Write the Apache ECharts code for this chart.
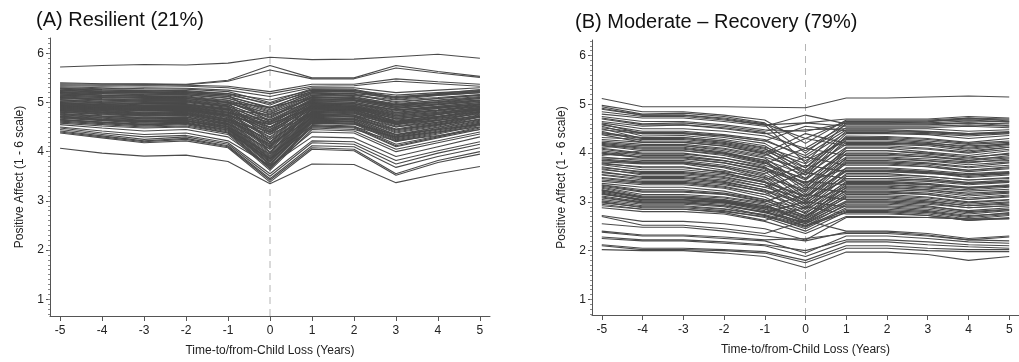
<!DOCTYPE html>
<html>
<head>
<meta charset="utf-8">
<script src="https://cdn.jsdelivr.net/npm/echarts@6/dist/echarts.min.js"></script>
<style>
html,body{margin:0;padding:0;background:#fff;}
#chart{width:1019px;height:362px;}
</style>
</head>
<body>
<div id="chart"></div>
<script>
// ---- data ----
const years = [-5, -4, -3, -2, -1, 0, 1, 2, 3, 4, 5];
const xTickLabels = ['-5', '-4', '-3', '-2', '-1', '0', '1', '2', '3', '4', '5'];
const yTickLabels = ['1', '2', '3', '4', '5', '6'];
const titleA = '(A) Resilient (21%)';
const titleB = '(B) Moderate \u2013 Recovery (79%)';
const lossYear = 0;

// (A) Resilient trajectories, one row per person, values at years -5..5
const resilientLines = [
  [5.72,5.75,5.77,5.76,5.80,5.92,5.87,5.88,5.93,5.98,5.90],
  [5.40,5.38,5.38,5.37,5.45,5.75,5.50,5.50,5.75,5.63,5.53],
  [5.38,5.37,5.37,5.36,5.43,5.66,5.48,5.48,5.70,5.60,5.51],
  [5.36,5.35,5.36,5.35,5.33,5.22,5.37,5.37,5.48,5.42,5.37],
  [5.34,5.33,5.34,5.33,5.30,5.18,5.33,5.34,5.43,5.38,5.33],
  [5.30,5.28,5.30,5.29,5.25,5.12,5.30,5.30,5.20,5.25,5.30],
  [5.28,5.25,5.24,5.22,5.18,5.05,5.25,5.24,5.15,5.20,5.24],
  [5.25,5.22,5.21,5.20,5.15,4.98,5.22,5.21,5.12,5.17,5.22],
  [5.22,5.20,5.20,5.18,5.12,4.90,5.20,5.18,5.10,5.15,5.20],
  [5.20,5.18,5.16,5.15,5.08,4.85,5.17,5.15,5.05,5.10,5.16],
  [5.18,5.15,5.14,5.13,5.05,4.80,5.15,5.14,5.02,5.08,5.14],
  [5.15,5.12,5.10,5.10,5.02,4.72,5.12,5.10,4.98,5.04,5.10],
  [5.12,5.10,5.08,5.08,5.00,4.68,5.10,5.08,4.95,5.00,5.08],
  [5.10,5.07,5.05,5.05,4.96,4.62,5.07,5.05,4.92,4.98,5.05],
  [5.08,5.05,5.02,5.03,4.93,4.55,5.04,5.03,4.88,4.95,5.02],
  [5.05,5.02,5.00,5.00,4.90,4.50,5.02,5.00,4.85,4.92,5.00],
  [5.03,5.00,4.98,4.98,4.88,4.45,5.00,4.98,4.80,4.88,4.97],
  [5.00,4.98,4.95,4.95,4.85,4.40,4.97,4.95,4.78,4.85,4.95],
  [4.98,4.95,4.93,4.93,4.82,4.35,4.95,4.92,4.74,4.82,4.92],
  [4.96,4.92,4.90,4.90,4.78,4.30,4.92,4.90,4.70,4.78,4.90],
  [4.94,4.90,4.88,4.88,4.76,4.25,4.90,4.88,4.66,4.75,4.87],
  [4.92,4.88,4.85,4.86,4.73,4.20,4.87,4.85,4.62,4.72,4.85],
  [4.90,4.86,4.83,4.84,4.70,4.15,4.85,4.82,4.58,4.70,4.82],
  [4.88,4.84,4.80,4.82,4.67,4.10,4.82,4.80,4.55,4.66,4.80],
  [4.86,4.82,4.78,4.80,4.64,4.05,4.80,4.78,4.50,4.63,4.78],
  [4.84,4.80,4.76,4.78,4.62,4.00,4.78,4.75,4.46,4.60,4.75],
  [4.82,4.78,4.74,4.76,4.60,3.95,4.75,4.72,4.42,4.56,4.72],
  [4.80,4.75,4.72,4.73,4.57,3.90,4.72,4.70,4.38,4.52,4.70],
  [4.78,4.73,4.70,4.71,4.55,3.88,4.70,4.68,4.35,4.50,4.67],
  [4.75,4.70,4.67,4.68,4.52,3.85,4.67,4.65,4.32,4.47,4.64],
  [4.72,4.68,4.64,4.66,4.50,3.80,4.64,4.62,4.28,4.44,4.60],
  [4.70,4.65,4.61,4.63,4.47,3.75,4.62,4.60,4.24,4.40,4.57],
  [4.68,4.63,4.58,4.60,4.44,3.72,4.58,4.56,4.20,4.36,4.53],
  [4.65,4.60,4.55,4.58,4.42,3.68,4.55,4.52,4.15,4.32,4.50],
  [4.62,4.57,4.52,4.55,4.38,3.65,4.50,4.48,4.10,4.28,4.45],
  [4.58,4.52,4.48,4.50,4.35,3.62,4.45,4.42,4.05,4.22,4.40],
  [4.55,4.48,4.42,4.45,4.30,3.70,4.40,4.38,4.00,4.18,4.36],
  [4.50,4.42,4.35,4.38,4.22,3.72,4.30,4.28,3.90,4.10,4.30],
  [4.48,4.38,4.30,4.33,4.18,3.55,4.22,4.20,3.82,4.02,4.20],
  [4.45,4.35,4.25,4.30,4.15,3.50,4.18,4.15,3.75,3.97,4.15],
  [4.42,4.32,4.22,4.27,4.12,3.45,4.12,4.10,3.68,3.90,4.08],
  [4.40,4.30,4.20,4.25,4.10,3.42,4.08,4.05,3.55,3.82,4.00],
  [4.38,4.28,4.18,4.22,4.08,3.38,4.05,4.02,3.52,3.78,3.95],
  [4.07,3.97,3.91,3.93,3.80,3.35,3.75,3.74,3.37,3.55,3.70],
  [5.27,5.23,5.22,5.21,5.15,4.60,5.05,5.05,4.95,5.00,5.05],
  [5.20,5.15,5.12,5.12,5.00,4.20,4.95,4.92,4.60,4.75,4.88],
  [5.10,5.05,5.03,5.02,4.92,3.98,4.88,4.86,4.55,4.70,4.82],
  [5.00,4.96,4.92,4.92,4.80,4.60,4.98,4.97,4.85,4.90,4.96],
  [4.95,4.90,4.88,4.87,4.75,4.45,4.85,4.83,4.64,4.72,4.80],
  [4.90,4.87,4.84,4.83,4.72,4.55,4.90,4.88,4.70,4.78,4.86],
  [4.85,4.80,4.78,4.78,4.66,4.35,4.76,4.74,4.56,4.64,4.72],
  [4.80,4.77,4.74,4.75,4.62,4.25,4.74,4.72,4.50,4.60,4.70],
  [4.76,4.72,4.68,4.70,4.56,4.15,4.68,4.66,4.45,4.55,4.65],
  [4.72,4.66,4.62,4.63,4.50,4.05,4.58,4.56,4.35,4.45,4.55],
  [4.66,4.60,4.56,4.58,4.44,3.95,4.52,4.50,4.30,4.40,4.50],
  [4.60,4.55,4.50,4.52,4.38,3.85,4.48,4.45,4.22,4.33,4.45],
  [5.15,5.12,5.10,5.08,5.00,4.90,5.10,5.08,4.95,5.02,5.10],
  [5.05,5.00,4.98,4.97,4.86,4.75,5.00,4.98,4.82,4.90,4.98],
  [4.98,4.93,4.90,4.90,4.80,4.65,4.93,4.92,4.76,4.84,4.93],
  [4.93,4.88,4.86,4.85,4.74,4.50,4.88,4.86,4.68,4.76,4.85],
  [5.32,5.30,5.28,5.27,5.22,5.00,5.28,5.27,5.10,5.18,5.26],
  [5.29,5.26,5.25,5.24,5.18,4.95,5.26,5.25,5.08,5.16,5.23],
  [5.24,5.21,5.19,5.18,5.12,4.88,5.23,5.22,5.06,5.14,5.20],
  [5.21,5.18,5.17,5.16,5.09,4.82,5.19,5.17,5.00,5.08,5.15],
  [5.17,5.14,5.12,5.11,5.04,4.76,5.14,5.12,4.96,5.05,5.12],
  [5.13,5.10,5.09,5.08,5.00,4.70,5.11,5.09,4.92,5.01,5.08],
  [5.09,5.06,5.04,5.04,4.95,4.65,5.06,5.04,4.88,4.96,5.03],
  [5.06,5.03,5.01,5.01,4.92,4.58,5.03,5.01,4.84,4.92,5.00],
  [5.02,4.99,4.97,4.96,4.87,4.48,4.99,4.97,4.79,4.88,4.96],
  [4.99,4.96,4.94,4.94,4.84,4.42,4.96,4.94,4.76,4.84,4.93],
  [4.97,4.94,4.91,4.91,4.80,4.38,4.93,4.91,4.72,4.80,4.90],
  [4.93,4.89,4.87,4.87,4.75,4.28,4.89,4.87,4.67,4.76,4.86],
  [4.91,4.87,4.84,4.85,4.72,4.18,4.86,4.84,4.60,4.71,4.84],
  [4.89,4.85,4.82,4.83,4.69,4.12,4.83,4.81,4.57,4.68,4.81],
  [4.87,4.83,4.79,4.81,4.66,4.08,4.81,4.79,4.52,4.64,4.79],
  [4.83,4.79,4.75,4.77,4.61,3.98,4.77,4.74,4.44,4.58,4.74],
  [4.81,4.76,4.73,4.74,4.58,3.92,4.73,4.71,4.40,4.54,4.71],
  [4.77,4.72,4.69,4.70,4.54,3.86,4.69,4.67,4.34,4.49,4.66],
  [4.74,4.69,4.66,4.67,4.51,3.82,4.66,4.64,4.30,4.46,4.62],
  [4.71,4.66,4.63,4.64,4.48,3.78,4.63,4.61,4.26,4.42,4.58],
  [4.69,4.64,4.60,4.62,4.46,3.74,4.60,4.58,4.22,4.38,4.55],
  [4.64,4.59,4.54,4.57,4.40,3.66,4.53,4.50,4.12,4.30,4.48],
  [5.11,5.08,5.06,5.06,4.98,4.78,5.08,5.06,4.90,4.97,5.04],
  [4.95,4.91,4.89,4.89,4.78,4.56,4.91,4.90,4.73,4.80,4.88],
  [4.85,4.81,4.77,4.79,4.65,4.40,4.79,4.77,4.60,4.68,4.76]
];

// (B) Moderate - Recovery trajectories, values at years -5..5
const recoveryLines = [
  [5.12,4.95,4.95,4.95,4.94,4.93,5.13,5.13,5.15,5.17,5.15],
  [4.98,4.85,4.85,4.78,4.68,4.20,4.68,4.68,4.68,4.72,4.70],
  [4.95,4.80,4.82,4.75,4.62,4.00,4.65,4.65,4.66,4.70,4.68],
  [4.92,4.78,4.78,4.70,4.58,3.80,4.62,4.62,4.64,4.72,4.66],
  [4.80,4.72,4.72,4.65,4.55,4.78,4.60,4.60,4.60,4.62,4.60],
  [4.72,4.60,4.62,4.55,4.45,4.62,4.55,4.55,4.55,4.58,4.55],
  [4.65,4.55,4.58,4.50,4.40,4.48,4.50,4.50,4.50,4.45,4.48],
  [4.60,4.40,4.40,4.32,4.20,3.70,4.45,4.45,4.42,4.38,4.42],
  [4.55,4.35,4.36,4.28,4.15,3.62,4.40,4.40,4.38,4.30,4.36],
  [4.50,4.30,4.32,4.25,4.10,3.55,4.35,4.34,4.30,4.22,4.30],
  [4.45,4.25,4.25,4.18,4.02,3.48,4.28,4.28,4.22,4.12,4.20],
  [4.38,4.22,4.22,4.15,4.00,4.40,4.20,4.20,4.18,4.10,4.18],
  [4.25,4.18,4.18,4.10,3.95,4.30,4.15,4.15,4.10,4.02,4.12],
  [4.22,4.15,4.15,4.05,3.90,3.35,4.10,4.10,4.02,3.95,4.05],
  [4.20,4.12,4.12,4.02,3.85,3.28,4.05,4.05,3.98,3.90,4.00],
  [4.18,4.10,4.10,4.00,3.82,3.22,4.00,4.00,3.95,3.85,3.95],
  [4.15,4.05,4.05,3.95,3.78,4.10,3.95,3.95,3.92,3.88,3.92],
  [4.10,4.00,4.00,3.90,3.72,3.15,3.90,3.90,3.85,3.80,3.88],
  [4.05,3.95,3.95,3.85,3.68,3.10,3.85,3.85,3.80,3.72,3.80],
  [4.00,3.90,3.90,3.80,3.62,3.05,3.80,3.80,3.75,3.65,3.72],
  [3.92,3.85,3.85,3.75,3.58,3.92,3.75,3.75,3.72,3.65,3.70],
  [3.88,3.82,3.82,3.72,3.52,3.00,3.70,3.70,3.65,3.58,3.62],
  [3.85,3.80,3.80,3.70,3.48,2.95,3.65,3.65,3.60,3.52,3.58],
  [3.82,3.78,3.78,3.65,3.45,3.75,3.62,3.62,3.58,3.55,3.58],
  [3.78,3.72,3.72,3.60,3.40,2.90,3.58,3.58,3.52,3.45,3.50],
  [3.72,3.60,3.60,3.52,3.35,2.85,3.52,3.52,3.48,3.40,3.45],
  [3.68,3.55,3.55,3.48,3.30,3.60,3.48,3.48,3.45,3.38,3.42],
  [3.62,3.50,3.50,3.42,3.25,2.80,3.42,3.42,3.38,3.30,3.35],
  [3.55,3.45,3.45,3.38,3.20,2.75,3.38,3.38,3.35,3.28,3.32],
  [3.48,3.40,3.40,3.32,3.15,3.42,3.35,3.35,3.30,3.25,3.30],
  [3.42,3.35,3.35,3.28,3.10,2.70,3.30,3.30,3.25,3.18,3.22],
  [3.38,3.30,3.30,3.22,3.05,2.65,3.25,3.25,3.22,3.12,3.18],
  [3.32,3.20,3.20,3.15,3.00,3.30,3.20,3.20,3.15,3.05,3.10],
  [3.28,3.12,3.12,3.08,2.95,2.60,3.15,3.15,3.10,3.00,3.05],
  [3.25,3.10,3.10,3.05,2.92,2.58,3.10,3.10,3.05,2.95,3.00],
  [3.22,3.08,3.08,3.02,2.88,3.15,3.05,3.05,3.00,2.92,2.98],
  [3.20,3.05,3.05,3.00,2.85,2.55,3.00,3.00,2.95,2.88,2.92],
  [3.18,3.02,3.02,2.98,2.82,2.50,2.95,2.95,2.90,2.82,2.88],
  [3.12,3.00,3.00,2.95,2.78,3.00,2.90,2.90,2.85,2.75,2.82],
  [3.05,2.95,2.95,2.90,2.72,2.45,2.85,2.85,2.80,2.70,2.78],
  [3.00,2.88,2.88,2.82,2.68,2.40,2.80,2.80,2.75,2.65,2.72],
  [2.95,2.85,2.85,2.78,2.62,2.90,2.75,2.75,2.72,2.62,2.68],
  [2.88,2.80,2.80,2.75,2.60,2.35,2.70,2.70,2.68,2.65,2.65],
  [2.72,2.60,2.60,2.55,2.45,2.22,2.68,2.68,2.68,2.65,2.66],
  [2.70,2.52,2.52,2.45,2.35,2.62,2.40,2.40,2.35,2.25,2.30],
  [2.55,2.48,2.48,2.40,2.30,2.20,2.38,2.38,2.32,2.22,2.28],
  [2.40,2.32,2.32,2.28,2.22,2.25,2.35,2.35,2.30,2.22,2.20],
  [2.38,2.30,2.30,2.25,2.20,1.95,2.30,2.30,2.25,2.18,2.15],
  [2.28,2.22,2.22,2.18,2.12,2.00,2.22,2.22,2.18,2.12,2.10],
  [2.25,2.20,2.20,2.15,2.10,1.88,2.18,2.18,2.12,2.08,2.05],
  [2.12,2.05,2.05,2.02,1.98,1.80,2.10,2.10,2.05,2.02,2.02],
  [2.10,2.02,2.02,2.00,1.95,1.75,2.05,2.05,2.00,1.98,1.98],
  [2.02,2.00,2.00,1.95,1.88,1.65,1.97,1.97,1.92,1.80,1.88],
  [4.85,4.75,4.75,4.68,4.58,4.62,4.70,4.70,4.70,4.75,4.72],
  [4.62,4.50,4.50,4.45,4.35,4.10,4.58,4.58,4.58,4.62,4.56],
  [4.48,4.40,4.40,4.35,4.25,3.95,4.48,4.48,4.45,4.40,4.44],
  [4.32,4.28,4.28,4.20,4.05,3.70,4.32,4.32,4.28,4.20,4.25],
  [4.12,4.15,4.15,4.08,3.92,3.65,4.18,4.18,4.15,4.05,4.12],
  [3.95,4.05,4.05,3.98,3.80,3.45,4.05,4.05,4.00,3.92,3.98],
  [3.90,3.88,3.88,3.80,3.65,3.38,3.92,3.92,3.88,3.82,3.85],
  [3.80,3.70,3.70,3.62,3.50,3.25,3.78,3.78,3.72,3.62,3.68],
  [3.70,3.62,3.62,3.55,3.40,3.10,3.62,3.62,3.60,3.50,3.55],
  [3.60,3.52,3.52,3.45,3.30,3.05,3.45,3.45,3.42,3.35,3.40],
  [3.50,3.42,3.42,3.35,3.22,2.95,3.32,3.32,3.28,3.22,3.26],
  [3.35,3.25,3.25,3.18,3.05,2.85,3.28,3.28,3.25,3.15,3.20],
  [3.30,3.15,3.15,3.10,2.98,2.72,3.18,3.18,3.15,3.05,3.12],
  [3.15,3.05,3.05,3.00,2.88,2.65,3.08,3.08,3.02,2.92,2.95],
  [3.08,2.98,2.98,2.92,2.80,2.58,2.98,2.98,2.92,2.80,2.85],
  [2.92,2.85,2.85,2.80,2.70,2.48,2.88,2.88,2.82,2.72,2.76],
  [4.02,3.92,3.92,3.85,3.70,3.40,3.68,3.68,3.62,3.55,3.60],
  [4.42,4.32,4.32,4.25,4.12,3.85,4.25,4.25,4.20,4.15,4.18],
  [3.25,3.08,3.08,3.02,2.90,2.68,3.35,3.35,3.32,3.30,3.32],
  [2.98,2.90,2.90,2.85,2.72,2.50,2.78,2.78,2.72,2.62,2.66],
  [4.90,4.78,4.78,4.72,4.60,4.30,4.66,4.66,4.66,4.68,4.64],
  [4.70,4.58,4.58,4.52,4.42,4.05,4.52,4.52,4.52,4.55,4.52],
  [4.58,4.45,4.45,4.38,4.28,3.90,4.42,4.42,4.40,4.35,4.40],
  [4.40,4.30,4.30,4.22,4.08,3.78,4.30,4.30,4.25,4.18,4.22],
  [4.28,4.22,4.22,4.14,3.98,3.60,4.22,4.22,4.18,4.08,4.15],
  [4.16,4.08,4.08,4.00,3.86,3.55,4.12,4.12,4.08,4.00,4.08],
  [4.08,3.98,3.98,3.90,3.75,3.48,3.98,3.98,3.92,3.85,3.90],
  [3.98,3.92,3.92,3.84,3.70,3.32,3.88,3.88,3.84,3.76,3.82],
  [3.86,3.80,3.80,3.72,3.55,3.20,3.82,3.82,3.78,3.70,3.75],
  [3.76,3.66,3.66,3.58,3.42,3.12,3.65,3.65,3.62,3.55,3.60],
  [3.66,3.58,3.58,3.50,3.35,3.02,3.55,3.55,3.52,3.45,3.48],
  [3.56,3.48,3.48,3.40,3.25,2.98,3.48,3.48,3.45,3.38,3.42],
  [3.45,3.38,3.38,3.30,3.15,2.88,3.40,3.40,3.36,3.28,3.34],
  [3.34,3.22,3.22,3.16,3.02,2.78,3.22,3.22,3.18,3.08,3.14],
  [3.24,3.10,3.10,3.04,2.92,2.70,3.12,3.12,3.08,2.98,3.04],
  [3.16,3.04,3.04,2.98,2.86,2.62,3.02,3.02,2.98,2.88,2.92],
  [3.10,2.98,2.98,2.92,2.78,2.55,2.92,2.92,2.88,2.78,2.84],
  [3.02,2.92,2.92,2.86,2.74,2.52,2.82,2.82,2.78,2.68,2.74],
  [4.75,4.65,4.65,4.58,4.48,4.45,4.62,4.62,4.62,4.66,4.64],
  [4.52,4.42,4.42,4.36,4.25,4.55,4.46,4.46,4.44,4.40,4.42]
];

// ---- chart ----
const FONT = 'Liberation Sans, Arial, sans-serif';
const LINE_COLOR = '#4a4a4a';
const AXIS_COLOR = '#555';
const xMajor = years.slice();
const yMajor = yTickLabels.map(Number);
const yMinor = [];
for (let k = 7; k <= 63; k++) yMinor.push(k / 10);

const Y_A = [0.66, 6.31];
const Y_B = [0.68, 6.32];

function xAxisFor(gridIndex) {
  return {
    type: 'value', gridIndex: gridIndex, min: -5.24, max: 5.24,
    name: 'Time-to/from-Child Loss (Years)', nameLocation: 'middle', nameGap: 29,
    nameTextStyle: { fontFamily: FONT, fontSize: 12, color: '#222' },
    axisLine: { show: true, onZero: false, lineStyle: { color: AXIS_COLOR, width: 1 } },
    axisTick: { show: true, length: 5, customValues: xMajor, lineStyle: { color: AXIS_COLOR } },
    axisLabel: { customValues: xMajor, margin: 9, fontFamily: FONT, fontSize: 12, color: '#222',
      formatter: v => xTickLabels[years.indexOf(Math.round(v))] },
    splitLine: { show: false }
  };
}
function yAxisFor(gridIndex, rng) {
  return {
    type: 'value', gridIndex: gridIndex, min: rng[0], max: rng[1], position: 'left',
    name: 'Positive Affect (1 - 6 scale)', nameLocation: 'middle', nameGap: 24,
    nameTextStyle: { fontFamily: FONT, fontSize: 12, color: '#222' },
    axisLine: { show: true, onZero: false, lineStyle: { color: AXIS_COLOR, width: 1 } },
    axisTick: { show: true, length: 4, customValues: yMajor, lineStyle: { color: AXIS_COLOR } },
    axisLabel: { customValues: yMajor, margin: 6, fontFamily: FONT, fontSize: 12, color: '#222',
      formatter: v => yTickLabels[yMajor.indexOf(Math.round(v))] },
    splitLine: { show: false }
  };
}
function yMinorAxisFor(gridIndex, rng) {
  return {
    type: 'value', gridIndex: gridIndex, min: rng[0], max: rng[1], position: 'left', offset: 0,
    axisLine: { show: false, onZero: false },
    axisTick: { show: true, length: 2, customValues: yMinor, lineStyle: { color: '#888' } },
    axisLabel: { show: false }, splitLine: { show: false }
  };
}

const series = [];
function addPanel(lines, xi, yi, rng) {
  // dashed reference line at the year of loss
  series.push({
    type: 'line', xAxisIndex: xi, yAxisIndex: yi, silent: true, symbol: 'none',
    animation: false, z: 1,
    lineStyle: { color: '#b4b4b4', width: 1, type: [7, 5] },
    data: [[lossYear, rng[0]], [lossYear, rng[1]]]
  });
  lines.forEach(vals => {
    series.push({
      type: 'line', xAxisIndex: xi, yAxisIndex: yi, silent: true,
      symbol: 'none', animation: false, z: 2,
      lineStyle: { color: LINE_COLOR, width: 1.1 },
      data: years.map((x, i) => [x, vals[i]])
    });
  });
}
addPanel(resilientLines, 0, 0, Y_A);
addPanel(recoveryLines, 1, 2, Y_B);

const chart = echarts.init(document.getElementById('chart'), null, { renderer: 'canvas' });
chart.setOption({
  animation: false,
  backgroundColor: '#fff',
  title: [
    { text: titleA, left: 31, top: 5, textStyle: { fontFamily: FONT, fontSize: 20, fontWeight: 'normal', color: '#111' } },
    { text: titleB, left: 570, top: 7, textStyle: { fontFamily: FONT, fontSize: 20, fontWeight: 'normal', color: '#111' } }
  ],
  grid: [
    { left: 50, top: 38, width: 440, height: 278 },
    { left: 592, top: 40, right: -7, height: 275 }
  ],
  xAxis: [xAxisFor(0), xAxisFor(1)],
  yAxis: [yAxisFor(0, Y_A), yMinorAxisFor(0, Y_A), yAxisFor(1, Y_B), yMinorAxisFor(1, Y_B)],
  series: series
});
</script>
</body>
</html>
